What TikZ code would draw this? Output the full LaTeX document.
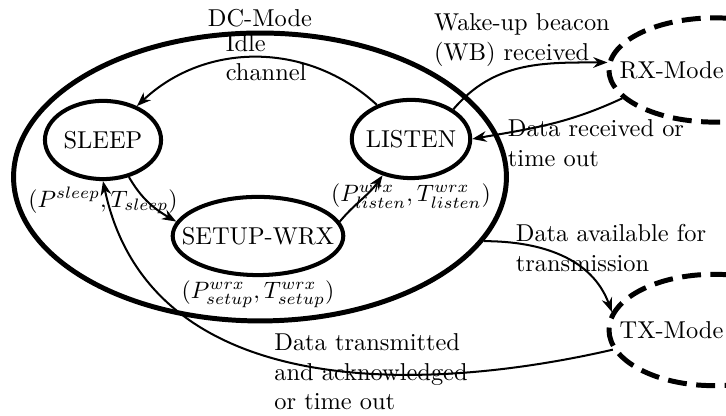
\documentclass[tikz,border=0pt]{standalone}
\usepackage{amsmath, amssymb}
\usepackage{tikz}
\usetikzlibrary{shapes, arrows.meta, positioning}

\begin{document}
\begin{tikzpicture}[x=0.422pt, y=0.422pt,
    font=\fontsize{10.3pt}{12.4pt}\selectfont,
    state/.style={draw, ellipse, line width=1.7pt, inner sep=0pt, minimum height=33pt},
    mode/.style={draw, ellipse, line width=2.1pt, dash pattern=on 8pt off 4pt},
    trans/.style={-{Stealth[length=6pt, width=4.5pt]}, line width=0.85pt}]

\useasboundingbox (0,0) rectangle (726,416);
\clip (0,0) rectangle (726,416);

% DC mode
\node[draw,
    ellipse,
    line width=2.1pt,
    minimum width=208pt,
    minimum height=121.5pt] (dc) at (260,239) {};
\node[above=-2pt of dc] (dcname) {DC-Mode};

% States
\node[state,
    minimum width=49pt] (sleep) at (103,276) {SLEEP};

\node[state,
    minimum width=50pt,
    inner xsep=-1.5pt] (listen) at (411,277) {LISTEN};

\node[state,
    minimum width=72pt,
    inner xsep=-7pt] (setup) at (258,180) {SETUP-WRX};

\node[below=-1pt of sleep] (sleepcost) {$(P^{sleep},T_{sleep})$};
\node[below=-2pt of setup] (setupcost) {$(P^{wrx}_{setup},T^{wrx}_{setup})$};
\node[below=-2pt of listen] (listencost) {$(P^{wrx}_{listen},T^{wrx}_{listen})$};

% RX and TX modes
\node[mode,
    minimum width=89.5pt,
    minimum height=44pt] (rx) at (715,346) {};
\node[right=2pt of rx.west] (rxname) {RX-Mode};

\node[mode,
    minimum width=88.6pt,
    minimum height=47pt] (tx) at (714,86) {};
\node[right=2pt of tx.west] (txname) {TX-Mode};

% Labels
\node[align=left] (wakelbl) at (522,376) {Wake-up beacon\\(WB) received};
\node[align=left] (rcvlbl) at (596,273) {Data received or\\time out};
\node[align=left] (availlbl) at (611,168) {Data available for\\transmission};
\node[align=left] (donelbl) at (371,44) {Data transmitted\\and acknowledged\\or time out};

% Arrows
\draw[trans] (listen.135) to[bend right=43] node[align=left, xshift=4pt] (idlelbl) {Idle\\channel} (sleep.45);
\draw[trans] (sleep.-55) to[out=-60, in=150] (setup.170);
\draw[trans] (setup.10) to[out=50, in=235] (listen.232);
\draw[trans] (listen.35) to[out=50, in=180] (rx.176);
\draw[trans] (rx.197) to[out=205, in=10] (listen.east);
\draw[trans] (dc.-16) to[out=0, in=110] (tx.170);
\draw[trans] (tx.191) to[out=193, in=-78, out looseness=0.93, in looseness=1.08] (sleep.south);

\end{tikzpicture}
\end{document}
